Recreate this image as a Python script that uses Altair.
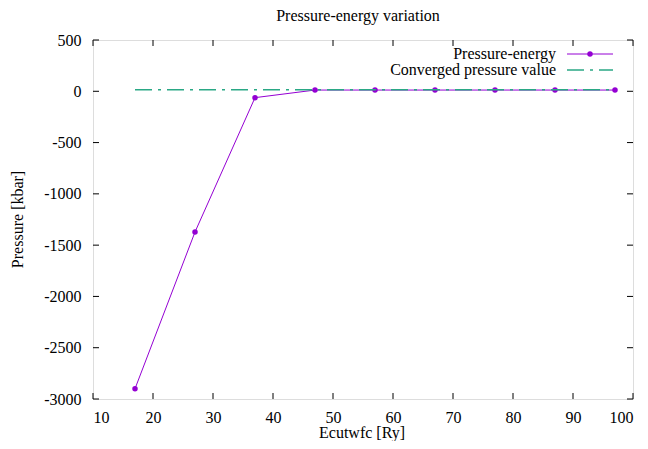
import altair as alt
import pandas as pd

# Data
ecut = [17, 27, 37, 47, 57, 67, 77, 87, 97]
pressure = [-2900, -1372, -62, 12, 12, 12, 12, 12, 12]
converged_x = [17, 97]
converged_y = [15, 15]
x_ticks = [10, 20, 30, 40, 50, 60, 70, 80, 90, 100]
y_ticks = [-3000, -2500, -2000, -1500, -1000, -500, 0, 500]

W, H = 540, 359
FONT = "Liberation Serif"
FS = 16
PURPLE = "#9400d3"
TEAL = "#2aa885"

df = pd.DataFrame({"ecut": ecut, "pressure": pressure})
dfc = pd.DataFrame({"ecut": converged_x, "pressure": converged_y})
dxt = pd.DataFrame({"t": x_ticks})
dyt = pd.DataFrame({"t": y_ticks})

xscale = alt.Scale(domain=[10, 100], nice=False, zero=False)
yscale = alt.Scale(domain=[-3000, 500], nice=False, zero=False)

xaxis = alt.Axis(values=x_ticks, tickSize=0, domain=False, grid=False,
                 labelExpr="'' + datum.value",
                 labelFont=FONT, labelFontSize=FS, labelColor="black",
                 labelPadding=10, title=None)
yaxis = alt.Axis(values=y_ticks, tickSize=0, domain=False, grid=False,
                 labelExpr="'' + datum.value",
                 labelFont=FONT, labelFontSize=FS, labelColor="black",
                 labelPadding=12, title=None)

line = alt.Chart(df).mark_line(color=PURPLE, strokeWidth=1).encode(
    x=alt.X("ecut:Q", scale=xscale, axis=xaxis),
    y=alt.Y("pressure:Q", scale=yscale, axis=yaxis),
)
pts = alt.Chart(df).mark_circle(color=PURPLE, size=30, opacity=1).encode(
    x=alt.X("ecut:Q", scale=xscale),
    y=alt.Y("pressure:Q", scale=yscale),
)
conv = alt.Chart(dfc).mark_line(color=TEAL, strokeWidth=1.6,
                                strokeDash=[17, 6, 3, 6]).encode(
    x=alt.X("ecut:Q", scale=xscale),
    y=alt.Y("pressure:Q", scale=yscale),
)

tick_bottom = alt.Chart(dxt).mark_rule(color="black", strokeWidth=1).encode(
    x=alt.X("t:Q", scale=xscale), y=alt.value(H), y2=alt.value(H - 6))
tick_top = alt.Chart(dxt).mark_rule(color="black", strokeWidth=1).encode(
    x=alt.X("t:Q", scale=xscale), y=alt.value(0), y2=alt.value(6))
tick_left = alt.Chart(dyt).mark_rule(color="black", strokeWidth=1).encode(
    y=alt.Y("t:Q", scale=yscale), x=alt.value(0), x2=alt.value(6))
tick_right = alt.Chart(dyt).mark_rule(color="black", strokeWidth=1).encode(
    y=alt.Y("t:Q", scale=yscale), x=alt.value(W), x2=alt.value(W - 6))

one = pd.DataFrame({"a": [0]})

def txt(s, x, y, align="center", baseline="middle", angle=0):
    return alt.Chart(one).mark_text(align=align, baseline=baseline, font=FONT,
                                    fontSize=FS, color="black", angle=angle).encode(
        x=alt.value(x), y=alt.value(y), text=alt.value(s))

# Titles as text marks
title_t = txt("Pressure-energy variation", 265, -24)
xtitle_t = txt("Ecutwfc [Ry]", 269, H + 39, baseline="alphabetic")
ytitle_t = txt("Pressure [kbar]", -75, H / 2, angle=270)

# Legend (inside, top right)
leg_t1 = txt("Pressure-energy", 463, 14, align="right")
leg_t2 = txt("Converged pressure value", 463, 30, align="right")
leg_l1 = alt.Chart(one).mark_rule(color=PURPLE, strokeWidth=1).encode(
    x=alt.value(474), x2=alt.value(520), y=alt.value(14))
leg_p1 = alt.Chart(one).mark_circle(color=PURPLE, size=30, opacity=1).encode(
    x=alt.value(497), y=alt.value(14))
leg_l2 = alt.Chart(one).mark_rule(color=TEAL, strokeWidth=1.6,
                                  strokeDash=[17, 6, 3, 6]).encode(
    x=alt.value(474), x2=alt.value(520), y=alt.value(30))

chart = alt.layer(
    line, pts, conv, tick_bottom, tick_top, tick_left, tick_right,
    title_t, xtitle_t, ytitle_t,
    leg_t1, leg_t2, leg_l1, leg_p1, leg_l2,
).properties(
    width=W, height=H,
    autosize=alt.AutoSizeParams(type="none"),
    padding={"left": 85, "top": 32, "right": 5, "bottom": 42},
).configure_view(stroke="black", strokeWidth=1.2).configure(background="white")

chart.save("out.html", embed_options={"renderer": "svg", "actions": False})
